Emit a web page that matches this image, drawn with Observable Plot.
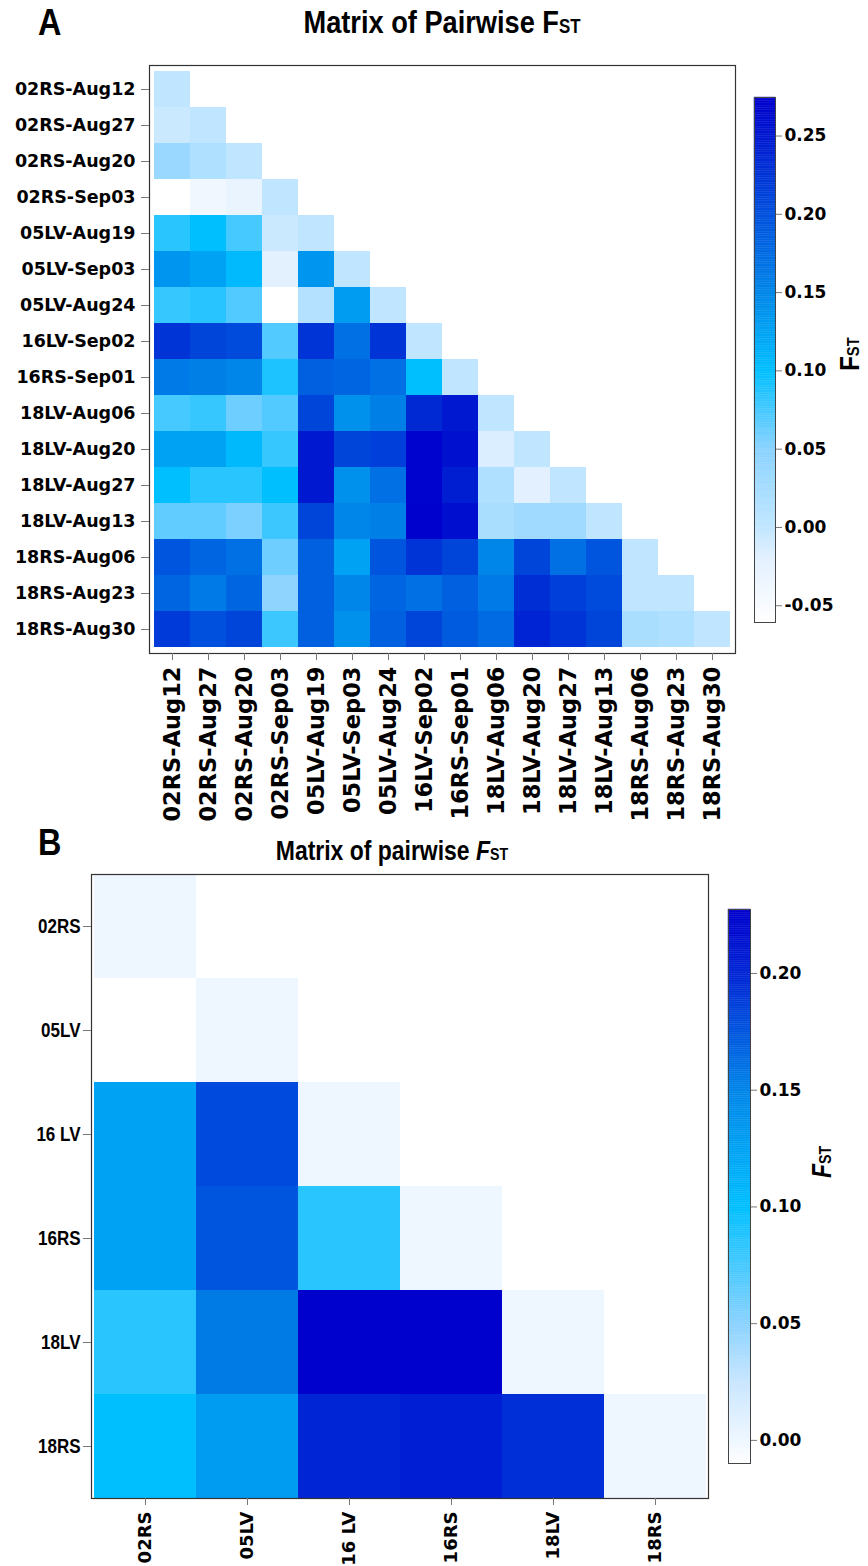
<!DOCTYPE html>
<html><head><meta charset="utf-8">
<script src="https://cdn.jsdelivr.net/npm/d3@7"></script>
<script src="https://cdn.jsdelivr.net/npm/@observablehq/plot@0.6"></script>
<style>
body{margin:0;background:#fff;}
#root{position:relative;width:868px;height:1566px;overflow:hidden;font-family:"DejaVu Sans",sans-serif;}
.abs{position:absolute;}
.title{font-family:"Liberation Sans",sans-serif;font-weight:bold;white-space:nowrap;color:#000;}
.sub{font-size:62%;}
.panel{font-family:"Liberation Sans",sans-serif;font-weight:bold;transform:scaleX(0.9);transform-origin:0 0;}
.rot{white-space:nowrap;line-height:1;}
</style></head><body><div id="root"></div>
<script>
// ---------- Panel A data ----------
const samplesA = ["02RS-Aug12","02RS-Aug27","02RS-Aug20","02RS-Sep03","05LV-Aug19","05LV-Sep03","05LV-Aug24","16LV-Sep02","16RS-Sep01","18LV-Aug06","18LV-Aug20","18LV-Aug27","18LV-Aug13","18RS-Aug06","18RS-Aug23","18RS-Aug30"];
// lower triangle, row i has i+1 values (columns 0..i)
const fstA = [
  [0.0],
  [-0.006, 0.0],
  [0.035, 0.015, 0.0],
  [-0.061, -0.04, -0.03, 0.0],
  [0.085, 0.10, 0.075, -0.006, 0.0],
  [0.135, 0.125, 0.104, -0.022, 0.135, 0.0],
  [0.08, 0.086, 0.07, -0.061, 0.012, 0.13, 0.0],
  [0.225, 0.21, 0.205, 0.07, 0.225, 0.17, 0.225, 0.0],
  [0.16, 0.155, 0.15, 0.09, 0.185, 0.18, 0.17, 0.10, 0.0],
  [0.075, 0.08, 0.06, 0.07, 0.21, 0.14, 0.155, 0.235, 0.25, 0.0],
  [0.125, 0.125, 0.105, 0.08, 0.25, 0.21, 0.215, 0.272, 0.258, -0.015, 0.0],
  [0.10, 0.085, 0.085, 0.10, 0.25, 0.14, 0.17, 0.272, 0.245, 0.015, -0.02, 0.0],
  [0.065, 0.065, 0.055, 0.078, 0.21, 0.15, 0.155, 0.274, 0.26, 0.02, 0.03, 0.03, 0.0],
  [0.195, 0.18, 0.17, 0.06, 0.185, 0.125, 0.195, 0.225, 0.21, 0.15, 0.21, 0.17, 0.195, 0.0],
  [0.18, 0.16, 0.18, 0.045, 0.185, 0.15, 0.18, 0.17, 0.185, 0.16, 0.23, 0.215, 0.205, 0.0, 0.0],
  [0.22, 0.20, 0.21, 0.078, 0.185, 0.14, 0.185, 0.21, 0.19, 0.175, 0.24, 0.225, 0.21, 0.02, 0.015, 0.0]
];
const legendTicksA = [-0.05, 0.00, 0.05, 0.10, 0.15, 0.20, 0.25];
const legendDomainA = [-0.0607, 0.2746];
const colorStopsA = [-0.0607, -0.02, 0.0, 0.05, 0.10, 0.15, 0.20, 0.25, 0.2746];
const colorRangeA = ["#ffffff","#e2f0ff","#c0e6ff","#8ad2ff","#00bfff","#0085e8","#0050dd","#0018d0","#0000cd"];

// ---------- Panel B data ----------
const samplesB = ["02RS","05LV","16 LV","16RS","18LV","18RS"];
const fstB = [
  [0.0],
  [-0.0099, 0.0],
  [0.125, 0.18, 0.0],
  [0.125, 0.175, 0.085, 0.0],
  [0.085, 0.155, 0.227, 0.227, 0.0],
  [0.10, 0.13, 0.20, 0.205, 0.195, 0.0]
];
const legendTicksB = [0.00, 0.05, 0.10, 0.15, 0.20];
const legendDomainB = [-0.0099, 0.2274];
const colorStopsB = [-0.0099, 0.0, 0.025, 0.05, 0.10, 0.15, 0.20, 0.2274];
const colorRangeB = ["#ffffff","#eef6ff","#c8e6ff","#8ad2ff","#00bfff","#0085e8","#0025d5","#0000cd"];

// ---------- helpers ----------
function toCells(names, tri) {
  const out = [];
  tri.forEach((row, i) => row.forEach((v, j) => out.push({row: names[i], col: names[j], fst: v})));
  return out;
}
const root = document.getElementById("root");
function place(node, left, top) {
  node.classList.add("abs");
  node.style.left = left + "px";
  node.style.top = top + "px";
  root.appendChild(node);
  return node;
}
function html(s, left, top, cls, style) {
  const d = document.createElement("div");
  d.innerHTML = s;
  if (cls) d.className = cls;
  if (style) d.setAttribute("style", style);
  return place(d, left, top);
}

function heatmap({names, tri, stops, range, width, height, mt, mr, mb, ml, xFont, yFont, yFamily, yPad}) {
  return Plot.plot({
    width, height,
    marginTop: mt, marginRight: mr, marginBottom: mb, marginLeft: ml,
    style: {fontFamily: "DejaVu Sans", background: "transparent", overflow: "visible"},
    x: {domain: names, padding: 0, label: null},
    y: {domain: names, padding: 0, label: null},
    color: {type: "linear", domain: stops, range: range, interpolate: "rgb"},
    marks: [
      Plot.cell(toCells(names, tri), {x: "col", y: "row", fill: "fst", inset: 0, shapeRendering: "crispEdges"}),
      Plot.frame({stroke: "#333", strokeWidth: 1.2}),
      Plot.axisY({tickSize: 8, tickPadding: yPad, fontSize: yFont, fontWeight: "bold", fontFamily: yFamily, stroke: "#777", fill: "#000", label: null}),
      Plot.axisX({tickSize: 7, tickPadding: 6, tickRotate: -90, fontSize: xFont, fontWeight: "bold", stroke: "#777", fill: "#000", label: null})
    ]
  });
}

function colorbar({domain, ticks, stops, range, height, barWidth, fontSize}) {
  const n = 300;
  const steps = d3.range(n).map(i => {
    const a = domain[0] + (domain[1] - domain[0]) * i / n;
    const b = domain[0] + (domain[1] - domain[0]) * (i + 1) / n;
    return {y1: a, y2: b, v: (a + b) / 2};
  });
  return Plot.plot({
    width: barWidth + 110, height: height + 20,
    marginTop: 10, marginBottom: 10, marginLeft: 0, marginRight: 110,
    style: {fontFamily: "DejaVu Sans", background: "transparent", overflow: "visible"},
    x: {domain: [0, 1], axis: null},
    y: {domain, label: null},
    color: {type: "linear", domain: stops, range: range, interpolate: "rgb"},
    marks: [
      Plot.rect(steps, {x1: 0, x2: 1, y1: "y1", y2: "y2", fill: "v", stroke: "v", strokeWidth: 0.4}),
      Plot.frame({stroke: "#444", strokeWidth: 1}),
      Plot.axisY({anchor: "right", ticks, tickFormat: d => d.toFixed(2), tickSize: 6, tickPadding: 3, fontSize, fontWeight: "bold", stroke: "#777", fill: "#000", label: null})
    ]
  });
}

// condense axis tick labels horizontally (narrow bold look)
function condense(svg, axisLabel, factor) {
  svg.querySelectorAll(`g[aria-label="${axisLabel}"] text`).forEach(t => {
    const len = t.getComputedTextLength();
    t.setAttribute("textLength", (len * factor).toFixed(1));
    t.setAttribute("lengthAdjust", "spacingAndGlyphs");
  });
}

// ---------- Panel A ----------
place(heatmap({names: samplesA, tri: fstA, stops: colorStopsA, range: colorRangeA,
  width: 868, height: 840, mt: 65, mr: 133, mb: 187, ml: 149, xFont: 22.5, yFont: 17.5, yFamily: "DejaVu Sans", yPad: 6}), 0, 0);
place(colorbar({domain: legendDomainA, ticks: legendTicksA, stops: colorStopsA, range: colorRangeA,
  height: 525, barWidth: 21, fontSize: 17}), 754, 87);
html("A", 38, 2, "panel", "font-size:36px;");
html("Matrix of Pairwise F<span class='sub'>ST</span>", 442, 4, "title", "font-size:32px;transform:translateX(-50%) scaleX(0.85);");
html("F<span class='sub'>ST</span>", 850, 354, "title rot", "font-size:28px;transform:translate(-50%,-50%) rotate(-90deg) scaleX(0.85);");

// ---------- Panel B ----------
const svgB = place(heatmap({names: samplesB, tri: fstB, stops: colorStopsB, range: colorRangeB,
  width: 868, height: 726, mt: 34, mr: 160, mb: 68, ml: 91, xFont: 18, yFont: 20, yFamily: "Liberation Sans", yPad: 3}), 0, 840);
condense(svgB, "y-axis tick label", 0.85);
place(colorbar({domain: legendDomainB, ticks: legendTicksB, stops: colorStopsB, range: colorRangeB,
  height: 554, barWidth: 22, fontSize: 17}), 728, 899);
html("B", 38, 822, "panel", "font-size:36px;");
html("Matrix of pairwise <i>F</i><span class='sub'>ST</span>", 392, 836, "title", "font-size:27px;transform:translateX(-50%) scaleX(0.85);");
html("<i>F</i><span class='sub'>ST</span>", 822, 1162, "title rot", "font-size:27px;transform:translate(-50%,-50%) rotate(-90deg) scaleX(0.85);");
</script>
</body></html>
